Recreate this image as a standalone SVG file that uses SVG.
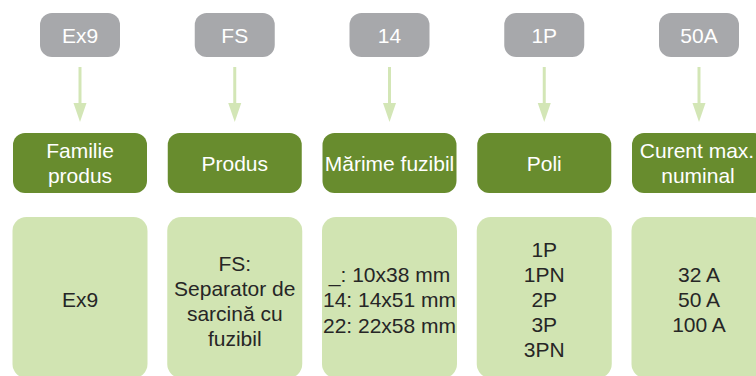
<svg xmlns="http://www.w3.org/2000/svg" width="756" height="376" viewBox="0 0 756 376">
<defs>
<style>
.code{fill:#a7a8ab}
.hdr{fill:#688c2e}
.val{fill:#d1e4b2}
text{font-family:"Liberation Sans",Arial,sans-serif;font-size:21px;text-anchor:middle}
.w{fill:#ffffff}
.d{fill:#262626}
.ln{stroke:#d3e6b6;stroke-width:3;fill:none}
.ah{fill:#d3e6b6}
</style>
</defs>
<rect width="756" height="376" fill="#ffffff"/>
<g id="connectors">
<line class="ln" x1="80" y1="67" x2="80" y2="105"/><polygon class="ah" points="73.5,103 86.5,103 80,122"/>
<line class="ln" x1="234.75" y1="67" x2="234.75" y2="105"/><polygon class="ah" points="228.25,103 241.25,103 234.75,122"/>
<line class="ln" x1="389.5" y1="67" x2="389.5" y2="105"/><polygon class="ah" points="383,103 396,103 389.5,122"/>
<line class="ln" x1="544.25" y1="67" x2="544.25" y2="105"/><polygon class="ah" points="537.75,103 550.75,103 544.25,122"/>
<line class="ln" x1="699" y1="67" x2="699" y2="105"/><polygon class="ah" points="692.5,103 705.5,103 699,122"/>
</g>
<g id="code-ex9"><rect class="code" x="40" y="13" width="80" height="44" rx="12"/><text class="w" x="80" y="42.5">Ex9</text></g>
<g id="code-fs"><rect class="code" x="194.75" y="13" width="80" height="44" rx="12"/><text class="w" x="234.75" y="42.5">FS</text></g>
<g id="code-14"><rect class="code" x="349.5" y="13" width="80" height="44" rx="12"/><text class="w" x="389.5" y="42.5">14</text></g>
<g id="code-1p"><rect class="code" x="504.25" y="13" width="80" height="44" rx="12"/><text class="w" x="544.25" y="42.5">1P</text></g>
<g id="code-50a"><rect class="code" x="659" y="13" width="80" height="44" rx="12"/><text class="w" x="699" y="42.5">50A</text></g>

<g id="hdr-familie"><rect class="hdr" x="13" y="133" width="134" height="60" rx="12"/><text class="w" x="80" y="158">Familie</text><text class="w" x="80" y="183">produs</text></g>
<g id="hdr-produs"><rect class="hdr" x="167.75" y="133" width="134" height="60" rx="12"/><text class="w" x="234.75" y="170.5">Produs</text></g>
<g id="hdr-marime"><rect class="hdr" x="322.5" y="133" width="134" height="60" rx="12"/><text class="w" x="389.5" y="170.5">Mărime fuzibil</text></g>
<g id="hdr-poli"><rect class="hdr" x="477.25" y="133" width="134" height="60" rx="12"/><text class="w" x="544.25" y="170.5">Poli</text></g>
<g id="hdr-curent"><rect class="hdr" x="632" y="133" width="134" height="60" rx="12"/><text class="w" x="697" y="158">Curent max.</text><text class="w" x="698" y="183">numinal</text></g>

<g id="val-familie"><rect class="val" x="12.5" y="217" width="135" height="161" rx="14"/><text class="d" x="80" y="307">Ex9</text></g>
<g id="val-produs"><rect class="val" x="167.25" y="217" width="135" height="161" rx="14"/><text class="d" x="234.75" y="270.7">FS:</text><text class="d" x="234.75" y="295.7">Separator de</text><text class="d" x="234.75" y="320.7">sarcină cu</text><text class="d" x="234.75" y="345.7">fuzibil</text></g>
<g id="val-marime"><rect class="val" x="322" y="217" width="135" height="161" rx="14"/><text class="d" x="389.5" y="281.7">_: 10x38 mm</text><text class="d" x="389.5" y="307">14: 14x51 mm</text><text class="d" x="389.5" y="332.5">22: 22x58 mm</text></g>
<g id="val-poli"><rect class="val" x="476.75" y="217" width="135" height="161" rx="14"/><text class="d" x="544.25" y="256.7">1P</text><text class="d" x="544.25" y="281.7">1PN</text><text class="d" x="544.25" y="306.7">2P</text><text class="d" x="544.25" y="331.7">3P</text><text class="d" x="544.25" y="356.7">3PN</text></g>
<g id="val-curent"><rect class="val" x="631.5" y="217" width="135" height="161" rx="14"/><text class="d" x="699" y="281.7">32 A</text><text class="d" x="699" y="306.7">50 A</text><text class="d" x="699" y="331.7">100 A</text></g>
</svg>
